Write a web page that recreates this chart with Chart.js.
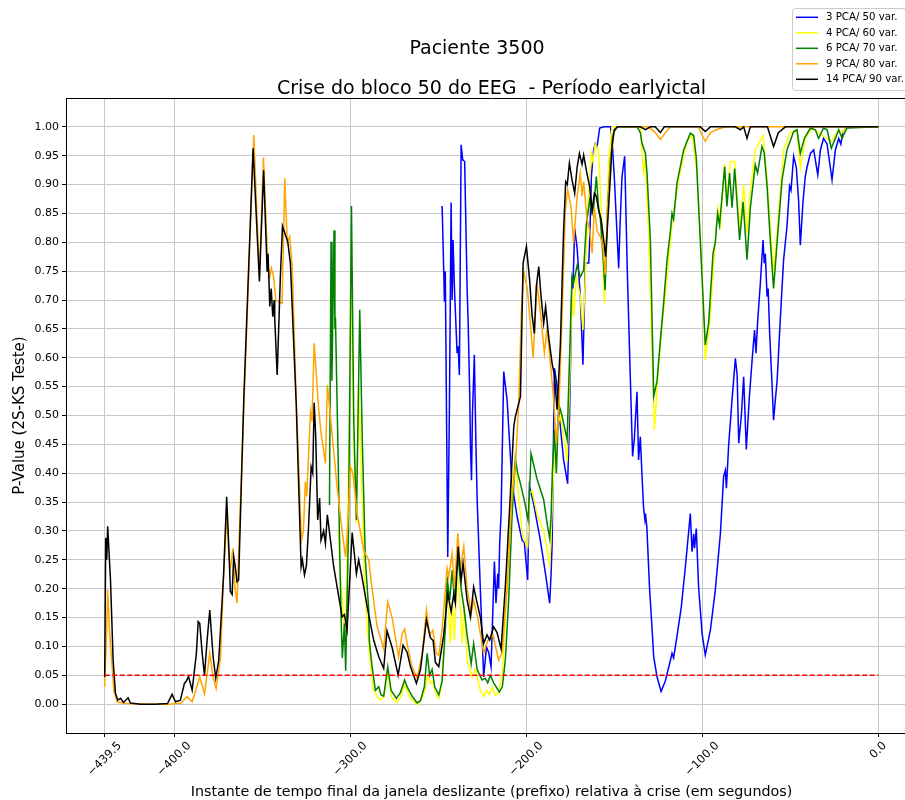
<!DOCTYPE html>
<html lang="pt">
<head>
<meta charset="UTF-8">
<title>Paciente 3500 - Crise do bloco 50</title>
<script src="https://cdn.jsdelivr.net/npm/chart.js"></script>
<style>
  html, body { margin: 0; padding: 0; overflow: hidden; background: #fff; }
  #grafico { display: block; }
</style>
</head>
<body>
<canvas id="grafico" width="920" height="800"></canvas>
<script>
// séries: instante (s, relativo à crise) e p-valor do teste 2S-KS
const tBlue = [-247.8,-246.9,-246.5,-246.0,-244.6,-243.7,-242.7,-242.1,-241.6,-240.8,
  -239.3,-238.7,-238.0,-237.0,-236.1,-235.0,-233.6,-233.0,-232.1,-231.7,
  -231.1,-230.6,-229.5,-228.6,-227.9,-226.1,-224.2,-222.6,-221.4,-220.0,
  -218.1,-217.2,-216.2,-215.7,-215.1,-214.3,-212.8,-210.9,-208.1,-205.2,
  -202.4,-201.1,-199.2,-198.2,-196.0,-192.0,-189.1,-186.7,-185.9,-185.3,
  -184.0,-182.9,-180.6,-178.8,-176.5,-175.4,-174.0,-173.5,-172.5,-171.1,
  -169.3,-167.8,-166.4,-164.5,-164.0,-163.0,-161.7,-160.8,-159.8,-158.3,
  -155.6,-152.2,-151.3,-150.0,-147.5,-146.6,-145.6,-144.1,-142.6,-140.9,
  -139.6,-138.6,-137.1,-136.2,-135.2,-134.3,-133.4,-132.6,-132.3,-131.5,
  -130.0,-128.6,-127.6,-125.7,-123.4,-121.0,-118.1,-117.2,-116.3,-114.4,
  -111.9,-109.6,-106.8,-105.8,-104.9,-104.4,-103.4,-102.1,-100.1,-98.3,
  -95.4,-92.6,-89.7,-87.9,-86.9,-86.3,-85.0,-83.1,-81.2,-80.2,
  -79.3,-77.8,-76.5,-75.0,-73.3,-71.6,-70.3,-69.5,-68.6,-67.0,
  -65.5,-64.8,-64.2,-63.2,-62.6,-61.7,-60.4,-59.5,-58.5,-57.5,
  -55.7,-53.8,-51.9,-50.4,-49.6,-48.1,-46.6,-45.3,-44.3,-42.8,
  -41.5,-40.5,-38.6,-36.7,-34.4,-32.9,-31.1,-29.1,-26.3,-24.4,
  -22.5,-21.3,-20.1,-17.8,0];
const pBlue = [0.863,0.752,0.697,0.75,0.255,0.5,0.869,0.70,0.804,0.72,
  0.608,0.62,0.57,0.969,0.943,0.94,0.72,0.66,0.533,0.446,
  0.388,0.5,0.605,0.45,0.354,0.2,0.047,0.099,0.09,0.065,
  0.247,0.175,0.226,0.20,0.278,0.33,0.576,0.527,0.382,0.325,
  0.284,0.28,0.215,0.377,0.35,0.284,0.226,0.175,0.226,0.278,
  0.582,0.56,0.48,0.423,0.382,0.5,0.741,0.72,0.824,0.79,
  0.706,0.588,0.764,0.764,0.80,0.914,0.96,0.971,0.965,0.998,
  1.0,1.0,0.98,0.914,0.755,0.84,0.914,0.949,0.75,0.567,
  0.429,0.46,0.541,0.423,0.463,0.40,0.342,0.32,0.33,0.307,
  0.203,0.134,0.082,0.047,0.022,0.04,0.076,0.088,0.08,0.117,
  0.169,0.238,0.33,0.264,0.295,0.27,0.304,0.203,0.122,0.085,
  0.128,0.198,0.296,0.394,0.405,0.374,0.45,0.527,0.599,0.57,
  0.452,0.5,0.567,0.441,0.53,0.6,0.648,0.608,0.66,0.73,
  0.804,0.764,0.78,0.706,0.72,0.64,0.556,0.492,0.527,0.56,
  0.666,0.77,0.827,0.897,0.89,0.949,0.93,0.873,0.795,0.87,
  0.914,0.93,0.954,0.96,0.917,0.96,0.98,0.97,0.908,0.96,
  0.98,0.97,0.992,1.0,1.0];

const tYellow = [-306.7,-305.6,-304.6,-303.9,-302.7,-301.0,-299.3,-298.0,-296.5,-295.1,
  -293.7,-292.0,-290.4,-288.7,-286.8,-284.5,-282.8,-281.0,-278.7,-276.2,
  -273.4,-271.5,-269.1,-265.8,-262.0,-260.1,-257.9,-256.0,-254.5,-253.1,
  -251.6,-249.7,-247.8,-245.4,-244.1,-243.1,-242.1,-240.8,-239.3,-237.4,
  -236.4,-235.1,-233.6,-230.7,-228.9,-226.1,-224.2,-222.6,-220.8,-219.4,
  -217.5,-215.7,-213.7,-211.9,-210.0,-208.1,-206.8,-205.2,-202.4,-200.5,
  -199.2,-198.1,-196.7,-193.9,-190.1,-186.7,-185.9,-184.8,-183.5,-180.6,
  -176.8,-175.4,-174.0,-173.1,-171.6,-169.3,-167.8,-166.4,-165.1,-164.0,
  -163.0,-162.1,-160.8,-158.9,-157.3,-155.6,-154.3,-153.2,-151.3,-135.2,
  -134.3,-133.4,-132.4,-130.5,-128.9,-127.2,-124.8,-122.7,-120.0,-117.2,
  -113.4,-108.7,-105.8,-103.0,-100.1,-98.3,-95.8,-93.9,-91.3,-89.7,
  -87.3,-86.0,-84.1,-81.6,-78.8,-76.5,-74.6,-72.7,-69.9,-65.5,
  -63.2,-59.5,-57.5,-53.8,-50.0,-46.2,-44.3,-41.5,-37.7,-33.9,
  -26.7,-22.5,-20.6,-17.8,0];
const pYellow = [0.30,0.22,0.19,0.15,0.10,0.4,0.75,0.45,0.313,0.55,
  0.4,0.22,0.134,0.076,0.024,0.012,0.007,0.012,0.053,0.01,
  0.003,0.012,0.033,0.01,0.0,0.005,0.02,0.05,0.036,0.04,
  0.02,0.01,0.04,0.192,0.16,0.105,0.18,0.111,0.226,0.17,
  0.105,0.17,0.076,0.047,0.06,0.024,0.013,0.024,0.016,0.03,
  0.015,0.02,0.053,0.15,0.278,0.377,0.411,0.39,0.296,0.28,
  0.273,0.365,0.37,0.33,0.30,0.241,0.29,0.38,0.469,0.5,
  0.42,0.55,0.72,0.671,0.74,0.706,0.648,0.74,0.85,0.914,
  0.954,0.94,0.971,0.96,0.85,0.694,0.82,0.943,1.0,1.0,
  0.96,0.922,0.945,0.82,0.65,0.475,0.585,0.66,0.74,0.83,
  0.91,0.975,0.985,0.92,0.75,0.596,0.66,0.746,0.86,0.83,
  0.935,0.87,0.94,0.94,0.82,0.90,0.816,0.89,0.96,0.985,
  0.91,0.746,0.82,0.96,0.99,0.992,0.928,0.98,0.998,0.99,
  0.975,0.995,0.99,1.0,1.0];

const tGreen = [-311.8,-310.9,-310.4,-309.2,-308.7,-308.4,-307.0,-305.9,-305.0,-304.5,
  -303.3,-302.6,-301.0,-299.3,-298.0,-296.5,-294.6,-293.1,-291.4,-289.5,
  -289.2,-287.6,-285.7,-283.8,-282.5,-281.0,-278.7,-276.8,-273.8,-271.5,
  -269.1,-267.4,-264.9,-262.0,-260.1,-257.9,-256.3,-254.9,-253.5,-252.0,
  -249.7,-247.8,-245.9,-245.0,-243.5,-242.1,-240.8,-238.9,-237.0,-235.5,
  -233.6,-231.3,-229.9,-227.9,-225.1,-223.2,-221.9,-220.4,-218.5,-215.3,
  -213.6,-211.9,-210.0,-208.1,-206.2,-204.9,-203.3,-200.9,-199.0,-198.1,
  -197.3,-193.9,-190.1,-188.0,-186.7,-185.9,-185.2,-184.0,-182.9,-181.6,
  -179.7,-176.8,-175.4,-174.0,-173.1,-171.1,-169.3,-167.4,-165.9,-164.0,
  -162.6,-161.7,-160.2,-158.9,-157.9,-156.4,-155.2,-153.8,-152.2,-150.4,
  -148.2,-137.0,-135.2,-134.3,-132.3,-131.4,-129.5,-127.6,-125.7,-123.8,
  -122.1,-120.0,-118.1,-117.2,-116.3,-114.4,-110.6,-106.8,-104.9,-103.4,
  -101.1,-98.3,-96.4,-93.9,-92.6,-91.3,-90.2,-87.3,-86.0,-84.5,
  -83.1,-81.6,-78.8,-76.8,-74.6,-72.7,-69.9,-68.6,-66.1,-64.8,
  -63.2,-61.3,-59.5,-57.5,-54.7,-51.9,-48.1,-46.2,-44.3,-42.0,
  -38.6,-35.8,-33.9,-31.1,-29.1,-26.7,-24.4,-22.5,-20.6,-17.8,
  0];
const pGreen = [0.345,0.801,0.56,0.821,0.65,0.67,0.45,0.25,0.13,0.08,
  0.14,0.058,0.3,0.863,0.49,0.319,0.683,0.45,0.25,0.163,
  0.111,0.065,0.024,0.03,0.016,0.014,0.065,0.024,0.01,0.02,
  0.042,0.028,0.014,0.002,0.006,0.03,0.088,0.05,0.06,0.03,
  0.016,0.04,0.134,0.221,0.18,0.232,0.18,0.26,0.20,0.169,
  0.12,0.07,0.105,0.06,0.042,0.045,0.037,0.05,0.037,0.021,
  0.03,0.076,0.18,0.325,0.426,0.40,0.382,0.35,0.319,0.371,
  0.434,0.39,0.354,0.31,0.287,0.325,0.40,0.475,0.40,0.52,
  0.5,0.458,0.6,0.741,0.73,0.76,0.74,0.752,0.83,0.873,
  0.85,0.86,0.914,0.86,0.84,0.775,0.717,0.86,0.943,0.99,
  1.0,1.0,0.99,0.972,0.954,0.92,0.804,0.533,0.56,0.631,
  0.69,0.77,0.82,0.85,0.84,0.902,0.96,0.989,0.985,0.946,
  0.80,0.622,0.66,0.781,0.80,0.85,0.83,0.931,0.862,0.92,
  0.86,0.928,0.804,0.87,0.77,0.86,0.934,0.92,0.966,0.955,
  0.897,0.80,0.72,0.80,0.908,0.96,0.992,0.995,0.954,0.98,
  0.998,0.995,0.98,0.998,0.995,0.963,0.98,0.995,0.98,0.998,
  1.0];

const tOrange = [-439.5,-438.3,-437.8,-436.8,-434.3,-432.4,-427.7,-413.5,-402.2,-399.3,
  -396.5,-392.7,-389.8,-385.5,-382.8,-379.8,-377.9,-376.2,-373.7,-371.9,
  -370.2,-369.0,-368.1,-366.6,-365.4,-364.3,-362.4,-354.8,-351.6,-349.3,
  -347.6,-346.8,-345.7,-344.8,-343.5,-342.3,-338.7,-337.2,-335.8,-334.4,
  -333.0,-330.7,-327.7,-326.6,-325.5,-324.7,-322.6,-321.7,-320.5,-317.9,
  -316.6,-314.1,-313.0,-311.3,-307.5,-304.6,-302.7,-301.4,-299.9,-298.5,
  -296.1,-292.4,-289.5,-287.6,-284.7,-281.0,-278.7,-276.2,-272.5,-270.5,
  -269.1,-267.4,-264.9,-262.0,-259.2,-256.7,-254.9,-253.1,-251.1,-249.7,
  -247.8,-245.0,-244.1,-242.1,-240.8,-238.9,-237.4,-235.5,-233.6,-231.3,
  -229.9,-227.6,-224.2,-221.9,-218.9,-215.7,-213.7,-210.9,-208.1,-206.2,
  -204.3,-202.8,-201.5,-199.4,-197.7,-196.1,-193.9,-192.0,-189.7,-188.2,
  -186.3,-184.4,-182.9,-181.6,-179.7,-177.8,-176.5,-174.5,-173.1,-171.1,
  -169.3,-168.3,-167.4,-165.5,-164.0,-162.6,-161.3,-159.8,-157.9,-156.4,
  -155.2,-153.8,-151.8,-150.0,-148.2,-130.6,-126.7,-123.8,-120.9,-118.1,
  -102.2,-100.0,-98.3,-95.4,-92.0,-86.9,0];
const pOrange = [0.03,0.134,0.198,0.13,0.024,0.004,0.001,0.0,0.0,0.001,
  0.001,0.013,0.004,0.047,0.018,0.088,0.047,0.027,0.08,0.227,
  0.33,0.26,0.235,0.27,0.2,0.175,0.35,0.986,0.74,0.947,
  0.818,0.76,0.74,0.755,0.74,0.70,0.694,0.911,0.80,0.81,
  0.76,0.53,0.284,0.30,0.385,0.36,0.507,0.49,0.625,0.51,
  0.47,0.417,0.553,0.50,0.377,0.30,0.255,0.31,0.411,0.40,
  0.33,0.267,0.25,0.2,0.134,0.096,0.177,0.15,0.082,0.122,
  0.13,0.10,0.065,0.045,0.085,0.163,0.12,0.128,0.088,0.085,
  0.13,0.235,0.22,0.261,0.20,0.296,0.235,0.273,0.20,0.157,
  0.18,0.15,0.088,0.11,0.12,0.076,0.09,0.2,0.36,0.411,
  0.52,0.68,0.75,0.72,0.66,0.6,0.729,0.68,0.608,0.65,
  0.59,0.527,0.452,0.50,0.671,0.856,0.891,0.86,0.798,0.879,
  0.92,0.88,0.905,0.84,0.821,0.781,0.86,0.82,0.81,0.79,
  0.744,0.86,0.95,0.995,1.0,1.0,0.99,0.978,0.99,1.0,
  1.0,0.985,0.975,0.99,0.995,1.0,1.0];

const tBlack = [-439.5,-438.9,-438.3,-437.8,-436.2,-434.7,-433.4,-432.1,-430.5,-428.8,
  -426.2,-424.9,-419.2,-410.7,-403.8,-401.2,-399.3,-396.5,-394.2,-393.1,
  -391.9,-389.8,-387.4,-386.4,-385.5,-384.1,-382.8,-381.3,-379.8,-377.9,
  -376.4,-374.7,-371.9,-370.2,-369.0,-368.1,-367.1,-366.2,-365.4,-364.3,
  -363.4,-360.5,-355.2,-351.6,-349.2,-347.2,-346.7,-345.7,-344.9,-344.0,
  -343.2,-342.9,-341.5,-339.7,-338.5,-335.5,-334.0,-330.7,-327.9,-327.2,
  -326.0,-324.9,-323.8,-322.2,-321.3,-320.5,-319.6,-318.5,-317.4,-316.6,
  -315.1,-314.1,-313.0,-309.4,-306.5,-304.6,-303.3,-301.8,-298.9,-296.5,
  -295.2,-293.3,-290.4,-286.7,-283.8,-281.0,-279.1,-276.2,-272.8,-270.0,
  -267.7,-265.8,-262.4,-260.1,-256.7,-254.5,-252.9,-251.6,-249.7,-246.9,
  -244.6,-242.7,-241.2,-240.3,-238.7,-237.0,-235.9,-233.6,-231.7,-229.9,
  -227.9,-226.1,-224.2,-222.3,-220.8,-218.5,-216.6,-214.3,-211.9,-209.0,
  -207.1,-206.2,-205.2,-203.3,-201.8,-199.9,-198.1,-196.7,-195.4,-194.3,
  -192.9,-191.7,-190.1,-189.0,-187.3,-185.3,-184.0,-182.5,-180.6,-178.8,
  -177.6,-176.7,-175.5,-174.0,-172.5,-171.1,-169.8,-168.3,-167.4,-165.9,
  -164.0,-162.6,-161.3,-160.2,-158.9,-157.5,-156.0,-154.9,-153.2,-152.2,
  -151.3,-150.0,-148.2,-135.2,-132.3,-129.5,-126.7,-123.8,-121.6,-101.1,
  -98.3,-95.4,-81.2,-78.4,-76.5,-74.6,-72.7,-63.0,-59.5,-56.8,
  -52.8,0];
const pBlack = [0.047,0.288,0.25,0.308,0.215,0.076,0.019,0.007,0.01,0.003,
  0.011,0.002,0.0,0.0,0.001,0.017,0.004,0.007,0.036,0.04,
  0.048,0.024,0.088,0.143,0.14,0.088,0.05,0.111,0.163,0.082,
  0.045,0.076,0.227,0.359,0.273,0.195,0.19,0.255,0.24,0.212,
  0.215,0.527,0.963,0.732,0.925,0.749,0.78,0.689,0.72,0.671,
  0.70,0.668,0.570,0.74,0.828,0.801,0.764,0.521,0.238,0.25,
  0.224,0.24,0.3,0.411,0.40,0.522,0.463,0.319,0.357,0.284,
  0.30,0.278,0.328,0.238,0.186,0.151,0.155,0.128,0.297,0.226,
  0.25,0.22,0.169,0.111,0.082,0.062,0.127,0.098,0.05,0.102,
  0.09,0.065,0.036,0.06,0.146,0.115,0.11,0.072,0.065,0.12,
  0.192,0.16,0.19,0.175,0.273,0.215,0.244,0.18,0.151,0.203,
  0.175,0.151,0.105,0.12,0.111,0.134,0.124,0.096,0.203,0.365,
  0.481,0.498,0.51,0.533,0.764,0.793,0.735,0.674,0.642,0.723,
  0.758,0.71,0.66,0.689,0.637,0.59,0.57,0.51,0.625,0.821,
  0.905,0.90,0.937,0.908,0.885,0.93,0.954,0.935,0.951,0.925,
  0.897,0.856,0.885,0.88,0.856,0.84,0.804,0.775,0.862,0.914,
  0.966,0.995,1.0,1.0,0.995,1.0,1.0,0.99,1.0,1.0,
  0.992,1.0,1.0,0.995,1.0,0.98,1.0,1.0,0.966,0.99,
  1.0,1.0];

// limiar de significância
const alphaLevel = 0.05;
const tAlpha = [-439.5, 0];

const xTicks = [-439.5, -400, -300, -200, -100, 0];
const xTickLabels = ['\u2212439.5', '\u2212400.0', '\u2212300.0', '\u2212200.0', '\u2212100.0', '0.0'];
const yTicks = [0, 0.05, 0.1, 0.15, 0.2, 0.25, 0.3, 0.35, 0.4, 0.45, 0.5,
  0.55, 0.6, 0.65, 0.7, 0.75, 0.8, 0.85, 0.9, 0.95, 1.0];

const seriesNames = ['3 PCA/ 50 var.', '4 PCA/ 60 var.', '6 PCA/ 70 var.', '9 PCA/ 80 var.', '14 PCA/ 90 var.'];
const seriesColors = ['#0000ff', '#ffff00', '#008000', '#ffa500', '#000000'];

const FONT = "'DejaVu Sans', sans-serif";

function pontos(ts, ps) {
  return ts.map((t, i) => ({ x: t, y: ps[i] }));
}

const series = [
  pontos(tBlue, pBlue),
  pontos(tYellow, pYellow),
  pontos(tGreen, pGreen),
  pontos(tOrange, pOrange),
  pontos(tBlack, pBlack)
];

const datasets = series.map((d, i) => ({
  label: seriesNames[i],
  data: d,
  borderColor: seriesColors[i],
  borderWidth: 1.5,
  pointRadius: 0,
  tension: 0,
  fill: false,
  order: 5 - i   // azul por baixo, preto por cima
}));

datasets.push({
  label: 'alpha',
  data: tAlpha.map(t => ({ x: t, y: alphaLevel })),
  borderColor: '#ff0000',
  borderWidth: 1.3,
  borderDash: [5, 2.5],
  pointRadius: 0,
  order: 0
});

// textos, eixo superior, rótulos do eixo x e legenda
const decoracao = {
  id: 'decoracao',
  afterDraw(chart) {
    const ctx = chart.ctx;
    const area = chart.chartArea;
    const xs = chart.scales.x;

    ctx.save();
    ctx.strokeStyle = '#000';
    ctx.lineWidth = 1;
    ctx.beginPath();
    ctx.moveTo(area.left, Math.round(area.top) + 0.5);
    ctx.lineTo(area.right, Math.round(area.top) + 0.5);
    ctx.stroke();

    ctx.fillStyle = '#000';
    ctx.textAlign = 'center';
    ctx.textBaseline = 'alphabetic';
    ctx.font = '19px ' + FONT;
    ctx.fillText('Paciente 3500', 477, 54);
    ctx.fillText('Crise do bloco 50 do EEG  - Período earlyictal', (area.left + area.right) / 2, 94);

    ctx.font = '14.3px ' + FONT;
    ctx.fillText('Instante de tempo final da janela deslizante (prefixo) relativa à crise (em segundos)',
      (area.left + area.right) / 2, 796);

    ctx.save();
    ctx.font = '15px ' + FONT;
    ctx.translate(20, (area.top + area.bottom) / 2);
    ctx.rotate(-Math.PI / 2);
    ctx.textBaseline = 'middle';
    ctx.fillText('P-Value (2S-KS Teste)', 0, 0);
    ctx.restore();

    // rótulos inclinados a 45 graus, centrados sob cada marca
    const fs = 11.5;
    ctx.font = fs + 'px ' + FONT;
    ctx.textBaseline = 'middle';
    xTicks.forEach((v, i) => {
      const px = xs.getPixelForValue(v);
      const w = ctx.measureText(xTickLabels[i]).width;
      const h = (w + fs) * Math.SQRT1_2;
      ctx.save();
      ctx.translate(px, area.bottom + 7 + h / 2);
      ctx.rotate(-Math.PI / 4);
      ctx.fillText(xTickLabels[i], 0, 0);
      ctx.restore();
    });

    // legenda
    const lx = 792.5, ly = 8.5;
    ctx.beginPath();
    ctx.roundRect(lx, ly, 140, 82, 3);
    ctx.fillStyle = 'rgba(255,255,255,0.8)';
    ctx.fill();
    ctx.strokeStyle = '#cccccc';
    ctx.lineWidth = 1;
    ctx.stroke();

    ctx.font = '10.2px ' + FONT;
    ctx.textAlign = 'left';
    ctx.textBaseline = 'middle';
    seriesNames.forEach((nome, i) => {
      const y = 17.3 + i * 15.5;
      ctx.strokeStyle = seriesColors[i];
      ctx.lineWidth = 1.5;
      ctx.beginPath();
      ctx.moveTo(796, y);
      ctx.lineTo(818, y);
      ctx.stroke();
      ctx.fillStyle = '#000';
      ctx.fillText(nome, 826, y + 0.5);
    });
    ctx.restore();
  }
};

const ctx = document.getElementById('grafico').getContext('2d');

new Chart(ctx, {
  type: 'line',
  data: { datasets: datasets },
  options: {
    responsive: false,
    animation: false,
    layout: { padding: { top: 98, right: 3, bottom: 0, left: 0 } },
    plugins: {
      legend: { display: false },
      tooltip: { enabled: false }
    },
    scales: {
      x: {
        type: 'linear',
        min: -461.475,
        max: 21.975,
        afterBuildTicks: s => { s.ticks = xTicks.map(v => ({ value: v })); },
        afterFit: s => { s.height = 67; },
        ticks: { display: false },
        grid: { color: '#c8c8c8', lineWidth: 1, tickLength: 4, tickColor: '#000', tickWidth: 1 },
        border: { color: '#000', width: 1 }
      },
      y: {
        type: 'linear',
        min: -0.05,
        max: 1.05,
        afterBuildTicks: s => { s.ticks = yTicks.map(v => ({ value: v })); },
        afterFit: s => { s.width = 66; },
        ticks: {
          autoSkip: false,
          padding: 3,
          color: '#000',
          font: { family: FONT, size: 11 },
          callback: v => v.toFixed(2)
        },
        grid: { color: '#c8c8c8', lineWidth: 1, tickLength: 4, tickColor: '#000', tickWidth: 1 },
        border: { color: '#000', width: 1 }
      }
    }
  },
  plugins: [decoracao]
});
</script>
</body>
</html>
